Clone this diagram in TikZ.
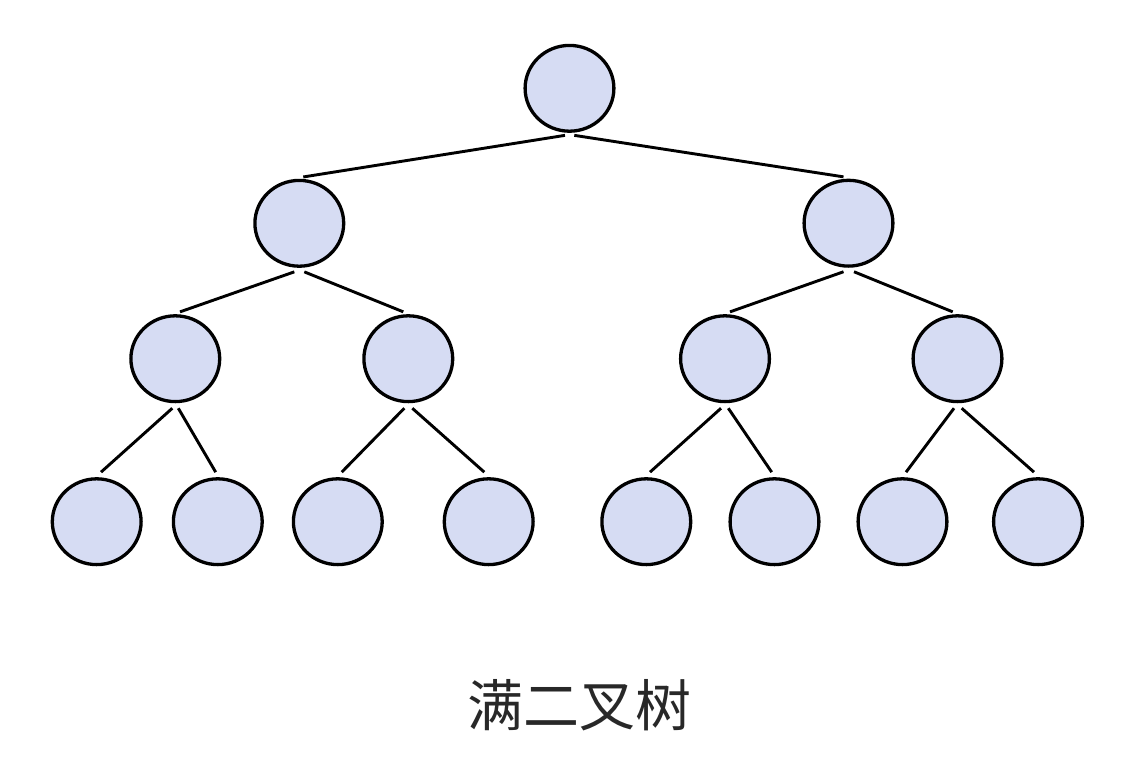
\documentclass[tikz,border=0pt]{standalone}
\usepackage{fontspec}
\newfontfamily\cjk{Noto Sans CJK SC}
\usetikzlibrary{shapes.geometric,calc}
\definecolor{nodefill}{RGB}{214,220,243}
\definecolor{textdark}{RGB}{40,40,40}
\tikzset{
  treenode/.style={ellipse, draw=black, fill=nodefill, line width=3.3pt,
    minimum width=88.8pt, minimum height=85.8pt, inner sep=0pt},
  link/.style={draw=black, line width=2.9pt},
}
\begin{document}
\begin{tikzpicture}[x=1pt,y=-1pt]
\useasboundingbox (0,0) rectangle (1140,777);
% level 1
\node[treenode] (r) at (569.5,88.3) {};
% level 2
\node[treenode] (a) at (299.3,223.3) {};
\node[treenode] (b) at (848.5,223.2) {};
% level 3
\node[treenode] (aa) at (175.3,358.7) {};
\node[treenode] (ab) at (408.3,358.7) {};
\node[treenode] (ba) at (725,358.7) {};
\node[treenode] (bb) at (957.5,358.7) {};
% level 4
\node[treenode] (l1) at (96.7,521.7) {};
\node[treenode] (l2) at (217.8,521.7) {};
\node[treenode] (l3) at (337.8,521.7) {};
\node[treenode] (l4) at (488.7,521.7) {};
\node[treenode] (l5) at (646.3,521.7) {};
\node[treenode] (l6) at (774.5,521.7) {};
\node[treenode] (l7) at (902.5,521.7) {};
\node[treenode] (l8) at (1038,521.7) {};
% edges
\draw[link] ($(r.south)+(-4.5,2.5)$) -- ($(a.north)+(4,-1.8)$);
\draw[link] ($(r.south)+(4.8,2.5)$) -- ($(b.north)+(-5,-1.8)$);
\draw[link] ($(a.south)+(-5,4)$) -- ($(aa.north)+(4.7,-2.3)$);
\draw[link] ($(a.south)+(5,4)$) -- ($(ab.north)+(-5,-2.3)$);
\draw[link] ($(b.south)+(-5,4)$) -- ($(ba.north)+(5,-2.3)$);
\draw[link] ($(b.south)+(5.5,4)$) -- ($(bb.north)+(-4.8,-2.3)$);
\draw[link] ($(aa.south)+(-3,5)$) -- ($(l1.north)+(4.3,-5)$);
\draw[link] ($(aa.south)+(3,5)$) -- ($(l2.north)+(-2.1,-5)$);
\draw[link] ($(ab.south)+(-4,5)$) -- ($(l3.north)+(3.9,-5)$);
\draw[link] ($(ab.south)+(4,5)$) -- ($(l4.north)+(-4.4,-5)$);
\draw[link] ($(ba.south)+(-4,5)$) -- ($(l5.north)+(3.7,-5)$);
\draw[link] ($(ba.south)+(3.3,5)$) -- ($(l6.north)+(-2.8,-5)$);
\draw[link] ($(bb.south)+(-3.5,5)$) -- ($(l7.north)+(3.5,-5)$);
\draw[link] ($(bb.south)+(4.2,5)$) -- ($(l8.north)+(-4,-5)$);
% caption
\node[text=textdark, font=\cjk\fontsize{56}{60}\selectfont, inner sep=0pt] (cap) at (579,705) {满二叉树};
\end{tikzpicture}
\end{document}
